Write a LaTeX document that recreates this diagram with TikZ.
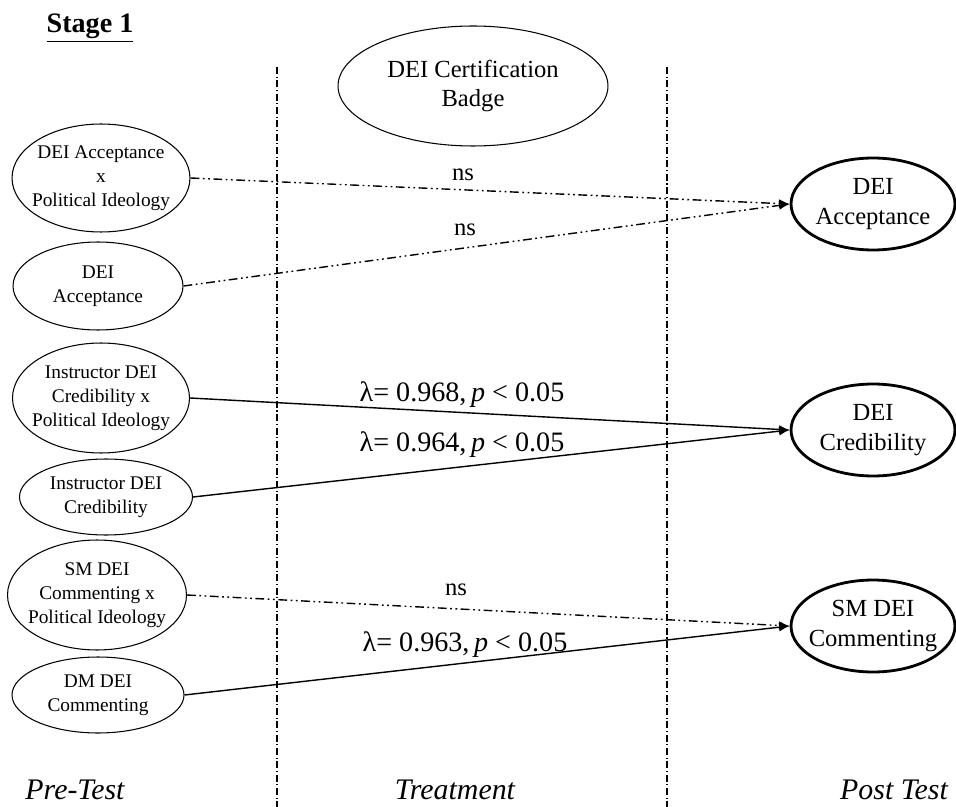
\documentclass[tikz,border=0pt]{standalone}
\usepackage{fontspec}
\setmainfont{Liberation Serif}
\usetikzlibrary{shapes.geometric,arrows.meta}

\begin{document}
\begin{tikzpicture}[
        x=0.02cm, y=-0.02cm, % one unit = one pixel, y grows downwards
        prevar/.style={ellipse, draw, line width=0.6pt, inner xsep=-6pt, inner ysep=0pt, align=center, font=\fontsize{11}{13.6}\selectfont}, % pre-test measures
        postvar/.style={ellipse, draw, line width=1.6pt, minimum width=3.28cm, minimum height=1.84cm, inner xsep=-6pt, inner ysep=0pt, align=center, font=\fontsize{14}{17}\selectfont}, % post-test measures
        coef/.style={font=\fontsize{16}{18}\selectfont},
        nslab/.style={font=\fontsize{14}{16}\selectfont},
        phase/.style={font=\fontsize{17}{19}\selectfont\itshape},
        divider/.style={line width=0.6pt, dash pattern=on 4pt off 1.5pt on 0.6pt off 1.5pt},
        nsline/.style={draw, -{Latex[length=6pt,width=5pt]}, line width=0.8pt, dash pattern=on 5pt off 2pt on 1pt off 2pt on 1pt off 2pt},
        sigline/.style={draw, -{Latex[length=6pt,width=5pt]}, line width=0.8pt},
    ]
    \useasboundingbox (0,0) rectangle (956,807);

    \node[font=\fontsize{16}{18}\selectfont\bfseries] (stage) at (90,28) {\underline{Stage 1}};

    % phase separators
    \coordinate (s1top) at (277,67);
    \coordinate (s1bot) at (277,807);
    \coordinate (s2top) at (667,67);
    \coordinate (s2bot) at (667,807);
    \draw[divider] (s1top) -- (s1bot);
    \draw[divider] (s2top) -- (s2bot);

    \node[ellipse, draw, line width=0.6pt, minimum width=5.4cm, minimum height=2.4cm, inner xsep=-6pt, inner ysep=0pt, align=center, font=\fontsize{14}{16.5}\selectfont] (badge) at (473,86) {DEI Certification\\Badge};

    % pre-test
    \node[prevar, minimum width=3.56cm, minimum height=2.16cm] (accXpol) at (101,178) {DEI Acceptance\\x\\Political Ideology};
    \node[prevar, minimum width=3.4cm, minimum height=1.76cm] (accPre) at (98,286) {DEI\\Acceptance};
    \node[prevar, minimum width=3.54cm, minimum height=2.2cm] (credXpol) at (101,398) {Instructor DEI\\Credibility x\\Political Ideology};
    \node[prevar, minimum width=3.46cm, minimum height=1.52cm] (credPre) at (106,497) {Instructor DEI\\Credibility};
    \node[prevar, minimum width=3.58cm, minimum height=2.2cm] (smXpol) at (97,595) {SM DEI\\Commenting x\\Political Ideology};
    \node[prevar, minimum width=3.44cm, minimum height=1.52cm] (dmPre) at (98,695) {DM DEI\\Commenting};

    % post-test
    \node[postvar] (accPost) at (873,204) {DEI\\Acceptance};
    \node[postvar] (credPost) at (873,430) {DEI\\Credibility};
    \node[postvar] (smPost) at (873,626) {SM DEI\\Commenting};

    % paths
    \path[nsline] (accXpol.east) -- (accPost.west);
    \path[nsline] (accPre.east) -- (accPost.west);
    \path[sigline] (credXpol.east) -- (credPost.west);
    \path[sigline] (credPre.east) -- (credPost.west);
    \path[nsline] (smXpol.east) -- (smPost.west);
    \path[sigline] (dmPre.east) -- (smPost.west);

    \node[nslab] (ns1) at (463,175) {ns};
    \node[nslab] (ns2) at (465,230) {ns};
    \node[coef] (lam1) at (462,395) {λ= 0.968,\,\textit{p} < 0.05};
    \node[coef] (lam2) at (462,445) {λ= 0.964,\,\textit{p} < 0.05};
    \node[nslab] (ns3) at (456,590) {ns};
    \node[coef] (lam3) at (465,645) {λ= 0.963,\,\textit{p} < 0.05};

    \node[phase] (pretest) at (75,790) {Pre-Test};
    \node[phase] (treat) at (455,790) {Treatment};
    \node[phase] (posttest) at (894,790) {Post Test};
\end{tikzpicture}
\end{document}
